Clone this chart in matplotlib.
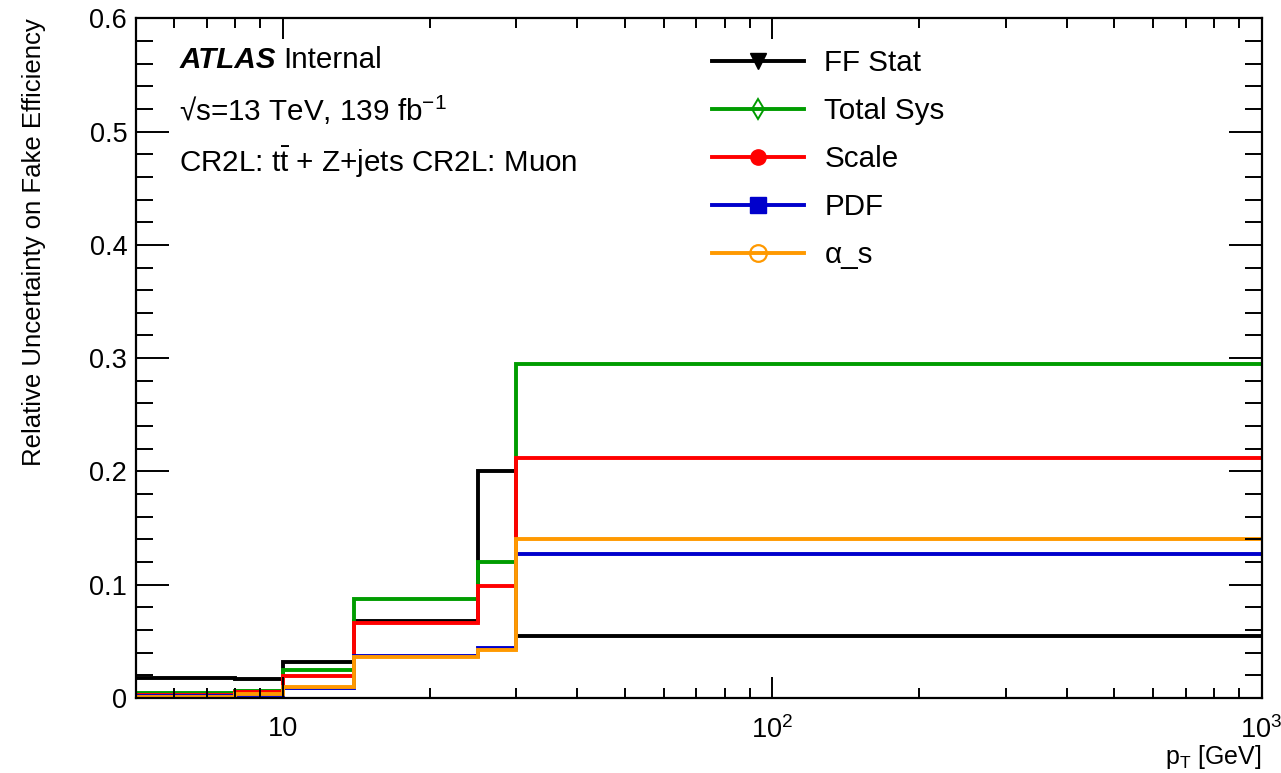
import matplotlib
matplotlib.use("Agg")
import matplotlib.pyplot as plt
from matplotlib.lines import Line2D
from matplotlib.ticker import FixedLocator, FixedFormatter, MultipleLocator, FuncFormatter

plt.rcParams['font.family'] = ['Liberation Sans', 'DejaVu Sans']
plt.rcParams['mathtext.fontset'] = 'custom'
plt.rcParams['mathtext.rm'] = 'Liberation Sans'
plt.rcParams['mathtext.it'] = 'Liberation Sans:italic'
plt.rcParams['mathtext.bf'] = 'Liberation Sans:bold'

# pT bin edges [GeV]
bin_edges = [5, 8, 10, 14, 25, 30, 1000]

# relative uncertainties per bin
ff_stat   = [0.018, 0.017, 0.032, 0.068, 0.200, 0.055]
total_sys = [0.004, 0.006, 0.025, 0.087, 0.120, 0.295]
scale     = [0.003, 0.005, 0.019, 0.066, 0.099, 0.212]
pdf       = [0.002, 0.003, 0.009, 0.037, 0.044, 0.127]
alpha_s   = [0.001, 0.0035, 0.0095, 0.036, 0.042, 0.140]

series = [
    ("FF Stat",   ff_stat,   "#000000", dict(marker="v", markersize=12, markerfacecolor="#000000")),
    ("Total Sys", total_sys, "#009c00", dict(marker="d", markersize=10, markerfacecolor="none", markeredgewidth=1.4)),
    ("Scale",     scale,     "#ff0000", dict(marker="o", markersize=11, markerfacecolor="#ff0000")),
    ("PDF",       pdf,       "#0000cc", dict(marker="s", markersize=11, markerfacecolor="#0000cc")),
    ("\u03b1_s",  alpha_s,   "#ff9900", dict(marker="o", markersize=12, markerfacecolor="none", markeredgewidth=1.6)),
]

FS_TICK = 19.5
FS_TEXT = 21.3

fig = plt.figure(figsize=(12.81, 7.73), dpi=100)
ax = fig.add_axes([135.5 / 1281, 1 - 698 / 773, (1261.5 - 135.5) / 1281, (698 - 18.3) / 773])

lw = 2.8
handles = []
for label, vals, color, mk in series:
    ax.stairs(vals, bin_edges, color=color, linewidth=lw, baseline=None)
    handles.append(Line2D([0], [0], color=color, linewidth=lw, markeredgecolor=color, **mk))

ax.set_xscale("log")
ax.set_xlim(5, 1000)
ax.set_ylim(0, 0.6)

ax.xaxis.set_major_locator(FixedLocator([10, 100, 1000]))
ax.xaxis.set_major_formatter(FixedFormatter(["10", r"$10^2$", r"$10^3$"]))
minor_x = [m * d for d in (1, 10, 100) for m in range(2, 10) if 5 <= m * d <= 1000]
ax.xaxis.set_minor_locator(FixedLocator(minor_x))
ax.yaxis.set_major_locator(MultipleLocator(0.1))
ax.yaxis.set_minor_locator(MultipleLocator(0.02))
ax.yaxis.set_major_formatter(FuncFormatter(lambda v, p: "0" if abs(v) < 1e-9 else f"{v:.1f}"))

ax.tick_params(which="both", direction="in", top=True, right=True, labelsize=FS_TICK, width=1.4, colors="black")
ax.tick_params(axis="x", which="major", length=15, pad=13)
ax.tick_params(axis="x", which="minor", length=7.5)
ax.tick_params(axis="y", which="major", length=24, pad=6)
ax.tick_params(axis="y", which="minor", length=12)
for sp in ax.spines.values():
    sp.set_linewidth(1.6)

ax.set_ylabel("Relative Uncertainty on Fake Efficiency", loc="top", fontsize=18.5, labelpad=31)
ax.set_xlabel(r"p$_\mathrm{T}$ [GeV]", fontsize=18, ha="right", va="top",
              family=["Liberation Sans Narrow", "Liberation Sans", "DejaVu Sans"])
ax.xaxis.set_label_coords(1.0, -0.066)

# experiment label and run conditions, upper-left corner
atlas = ax.text(0.039, 0.938, "ATLAS", transform=ax.transAxes, fontsize=FS_TEXT,
                fontweight="bold", fontstyle="italic", va="center")
ax.annotate("Internal", xy=(1, 0.5), xycoords=atlas, xytext=(5, 0), textcoords="offset points",
            fontsize=FS_TEXT, va="center")
ax.text(0.039, 0.864, "\u221as=13 TeV, 139 fb$^{-1}$", transform=ax.transAxes, fontsize=FS_TEXT, va="center",
        family=["Liberation Sans", "DejaVu Sans"])
ax.text(0.039, 0.789, r"CR2L: $\mathrm{t\bar{t}}$ + Z+jets CR2L: Muon", transform=ax.transAxes,
        fontsize=FS_TEXT, va="center")

ax.legend(handles, [s[0] for s in series], loc="upper left", bbox_to_anchor=(0.512, 0.955),
          frameon=False, fontsize=FS_TEXT, handlelength=3.1, handletextpad=0.7, labelspacing=0.68,
          numpoints=1, borderaxespad=0, borderpad=0)

fig.savefig("out.png", dpi=100, facecolor="white")
